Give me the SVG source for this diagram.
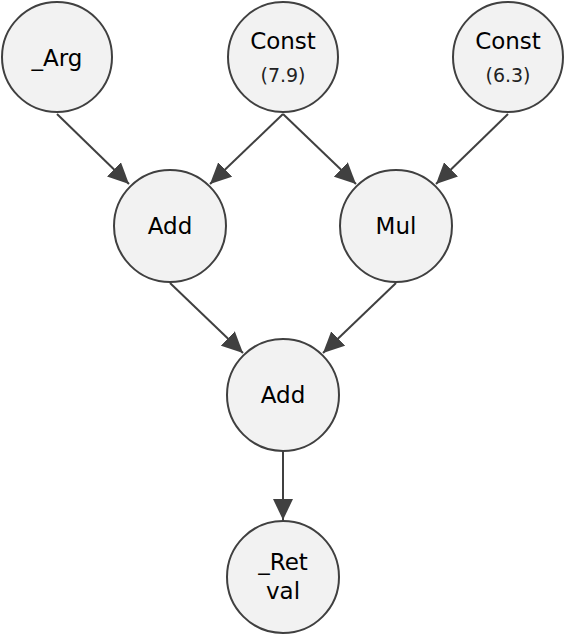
<svg xmlns="http://www.w3.org/2000/svg" width="565" height="635" viewBox="0 0 565 635">
<style>
.n{fill:#f2f2f2;stroke:#404040;stroke-width:2}
.t{font-family:"DejaVu Sans",sans-serif;font-size:23px;fill:#000;text-anchor:middle}
.s{font-family:"DejaVu Sans",sans-serif;font-size:19px;fill:#222;text-anchor:middle}
.e{stroke:#404040;stroke-width:2;fill:none;marker-end:url(#ah)}
</style>
<defs>
<marker id="ah" markerUnits="userSpaceOnUse" markerWidth="21" markerHeight="20" refX="21" refY="10" orient="auto">
<path d="M0,0 L21,10 L0,20 z" fill="#404040"/>
</marker>
</defs>
<g id="edges">
<line class="e" x1="57" y1="114" x2="129" y2="184"/>
<line class="e" x1="283" y1="114" x2="210" y2="184"/>
<line class="e" x1="283" y1="114" x2="356" y2="184"/>
<line class="e" x1="508" y1="114" x2="436" y2="184"/>
<line class="e" x1="170" y1="283" x2="243" y2="353"/>
<line class="e" x1="396" y1="283" x2="323" y2="353"/>
<line class="e" x1="283" y1="452" x2="283" y2="520"/>
</g>
<g id="arg"><circle class="n" cx="57" cy="57" r="55"/><text class="t" x="57" y="66">_Arg</text></g>
<g id="const1"><circle class="n" cx="283" cy="57" r="55"/><text class="t" x="283" y="49">Const</text><text class="s" x="283" y="82">(7.9)</text></g>
<g id="const2"><circle class="n" cx="508" cy="57" r="55"/><text class="t" x="508" y="49">Const</text><text class="s" x="508" y="82">(6.3)</text></g>
<g id="add1"><circle class="n" cx="170" cy="226" r="56"/><text class="t" x="170" y="234">Add</text></g>
<g id="mul"><circle class="n" cx="396" cy="226" r="56"/><text class="t" x="396" y="234">Mul</text></g>
<g id="add2"><circle class="n" cx="283" cy="395" r="56"/><text class="t" x="283" y="403">Add</text></g>
<g id="retval"><circle class="n" cx="283" cy="577" r="56"/><text class="t" x="283" y="570">_Ret</text><text class="t" x="283" y="599">val</text></g>
</svg>
